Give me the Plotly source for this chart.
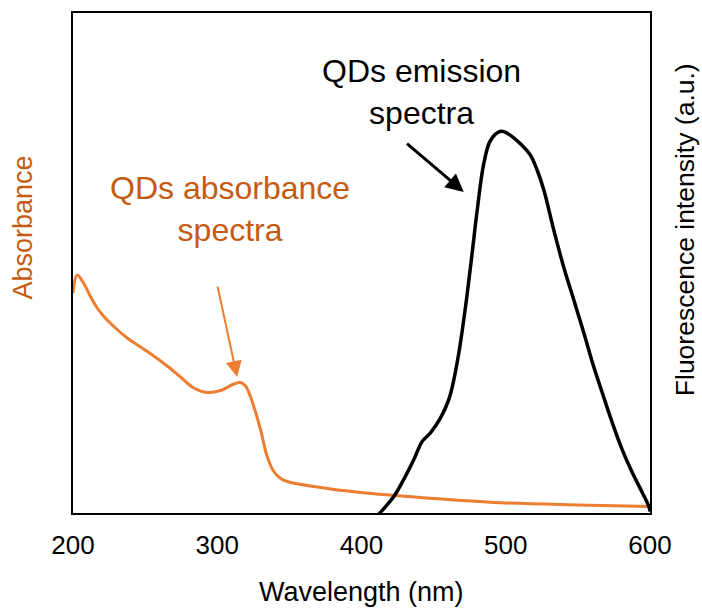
import plotly.graph_objects as go

# ---- data ----
abs_wavelength = [200, 202.9, 207.5, 212.1, 216.8, 221.4, 228.3, 237.6, 246.8, 256, 265.3,
                  274.5, 283.7, 293, 302.3, 311.5, 316.1, 319.6, 323, 324.9, 330, 334.6,
                  339.2, 344, 348.5, 366.9, 399.3, 450, 491.7, 550, 600]
abs_values = [0.440, 0.476, 0.459, 0.433, 0.410, 0.393, 0.373, 0.350, 0.332, 0.314, 0.294,
              0.272, 0.250, 0.241, 0.245, 0.258, 0.261, 0.254, 0.233, 0.217, 0.167, 0.113,
              0.083, 0.069, 0.063, 0.053, 0.041, 0.029, 0.021, 0.016, 0.013]

em_wavelength = [412, 413, 422.4, 429.3, 436.3, 442, 447.8, 454.8, 460.5, 462.9, 467.5,
                 472.1, 476.7, 480.2, 484.8, 489.4, 496.4, 501, 511.4, 517.2, 521.8,
                 526.4, 533.3, 540.2, 547.2, 554.1, 561, 566.9, 573.8, 580.7, 587.7,
                 594.6, 599.2, 600]
em_values = [-0.003, 0.001, 0.043, 0.088, 0.140, 0.187, 0.210, 0.249, 0.297, 0.330, 0.420,
             0.540, 0.681, 0.793, 0.916, 0.976, 1.000, 0.995, 0.963, 0.937, 0.898,
             0.846, 0.741, 0.644, 0.558, 0.472, 0.383, 0.315, 0.237, 0.166, 0.106,
             0.054, 0.017, 0.004]

x_ticks = [200, 300, 400, 500, 600]

ORANGE = "#ED7D31"
ORANGE_TEXT = "#C55A11"
FONT = "Liberation Sans, Arial, sans-serif"

fig = go.Figure()
fig.add_trace(go.Scatter(x=abs_wavelength, y=abs_values, mode="lines",
                         line=dict(color=ORANGE, width=3, shape="spline", smoothing=1.0),
                         yaxis="y", showlegend=False, hoverinfo="skip"))
fig.add_trace(go.Scatter(x=em_wavelength, y=em_values, mode="lines",
                         line=dict(color="black", width=3.5, shape="spline", smoothing=1.0),
                         yaxis="y2", showlegend=False, hoverinfo="skip"))

fig.update_layout(
    width=702, height=609,
    margin=dict(l=73, r=52, t=13, b=96),
    paper_bgcolor="white", plot_bgcolor="white",
    font=dict(family=FONT, color="black"),
    xaxis=dict(range=[200, 600], tickvals=x_ticks, ticks="", showgrid=False, zeroline=False,
               showline=True, linecolor="black", linewidth=2, mirror=True,
               tickfont=dict(size=26, color="black"), ticklabelstandoff=8),
    yaxis=dict(range=[0, 1], showticklabels=False, ticks="", showgrid=False, zeroline=False,
               showline=True, linecolor="black", linewidth=2, mirror=True),
    yaxis2=dict(range=[0, 1.31], overlaying="y", side="right", showticklabels=False, ticks="",
                showgrid=False, zeroline=False, showline=False),
)

annotations = [
    dict(text="QDs absorbance<br>spectra", x=308.5, y=0.608, xref="x", yref="paper",
         showarrow=False, font=dict(size=32, color=ORANGE_TEXT), xanchor="center", yanchor="middle"),
    dict(text="QDs emission<br>spectra", x=441.6, y=0.842, xref="x", yref="paper",
         showarrow=False, font=dict(size=32, color="black"), xanchor="center", yanchor="middle"),
    # arrows
    dict(x=313.8, y=0.272, ax=300, ay=0.456, xref="x", yref="y", axref="x", ayref="y",
         text="", showarrow=True, arrowhead=2, arrowsize=1.6, arrowwidth=2, arrowcolor=ORANGE),
    dict(x=470.9, y=0.841, ax=430.5, ay=0.971, xref="x", yref="y2", axref="x", ayref="y2",
         text="", showarrow=True, arrowhead=2, arrowsize=1.2, arrowwidth=3, arrowcolor="black"),
    # axis titles
    dict(text="Absorbance", x=-0.0875, y=0.570, xref="paper", yref="paper", textangle=-90,
         showarrow=False, font=dict(size=27, color=ORANGE_TEXT), xanchor="center", yanchor="middle"),
    dict(text="Fluorescence intensity (a.u.)", x=1.061, y=0.566, xref="paper", yref="paper",
         textangle=-90, showarrow=False, font=dict(size=26.5, color="black"),
         xanchor="center", yanchor="middle"),
    dict(text="Wavelength (nm)", x=0.5, y=-0.157, xref="paper", yref="paper",
         showarrow=False, font=dict(size=27, color="black"), xanchor="center", yanchor="middle"),
]
fig.update_layout(annotations=annotations)

fig.write_html("out.html")
